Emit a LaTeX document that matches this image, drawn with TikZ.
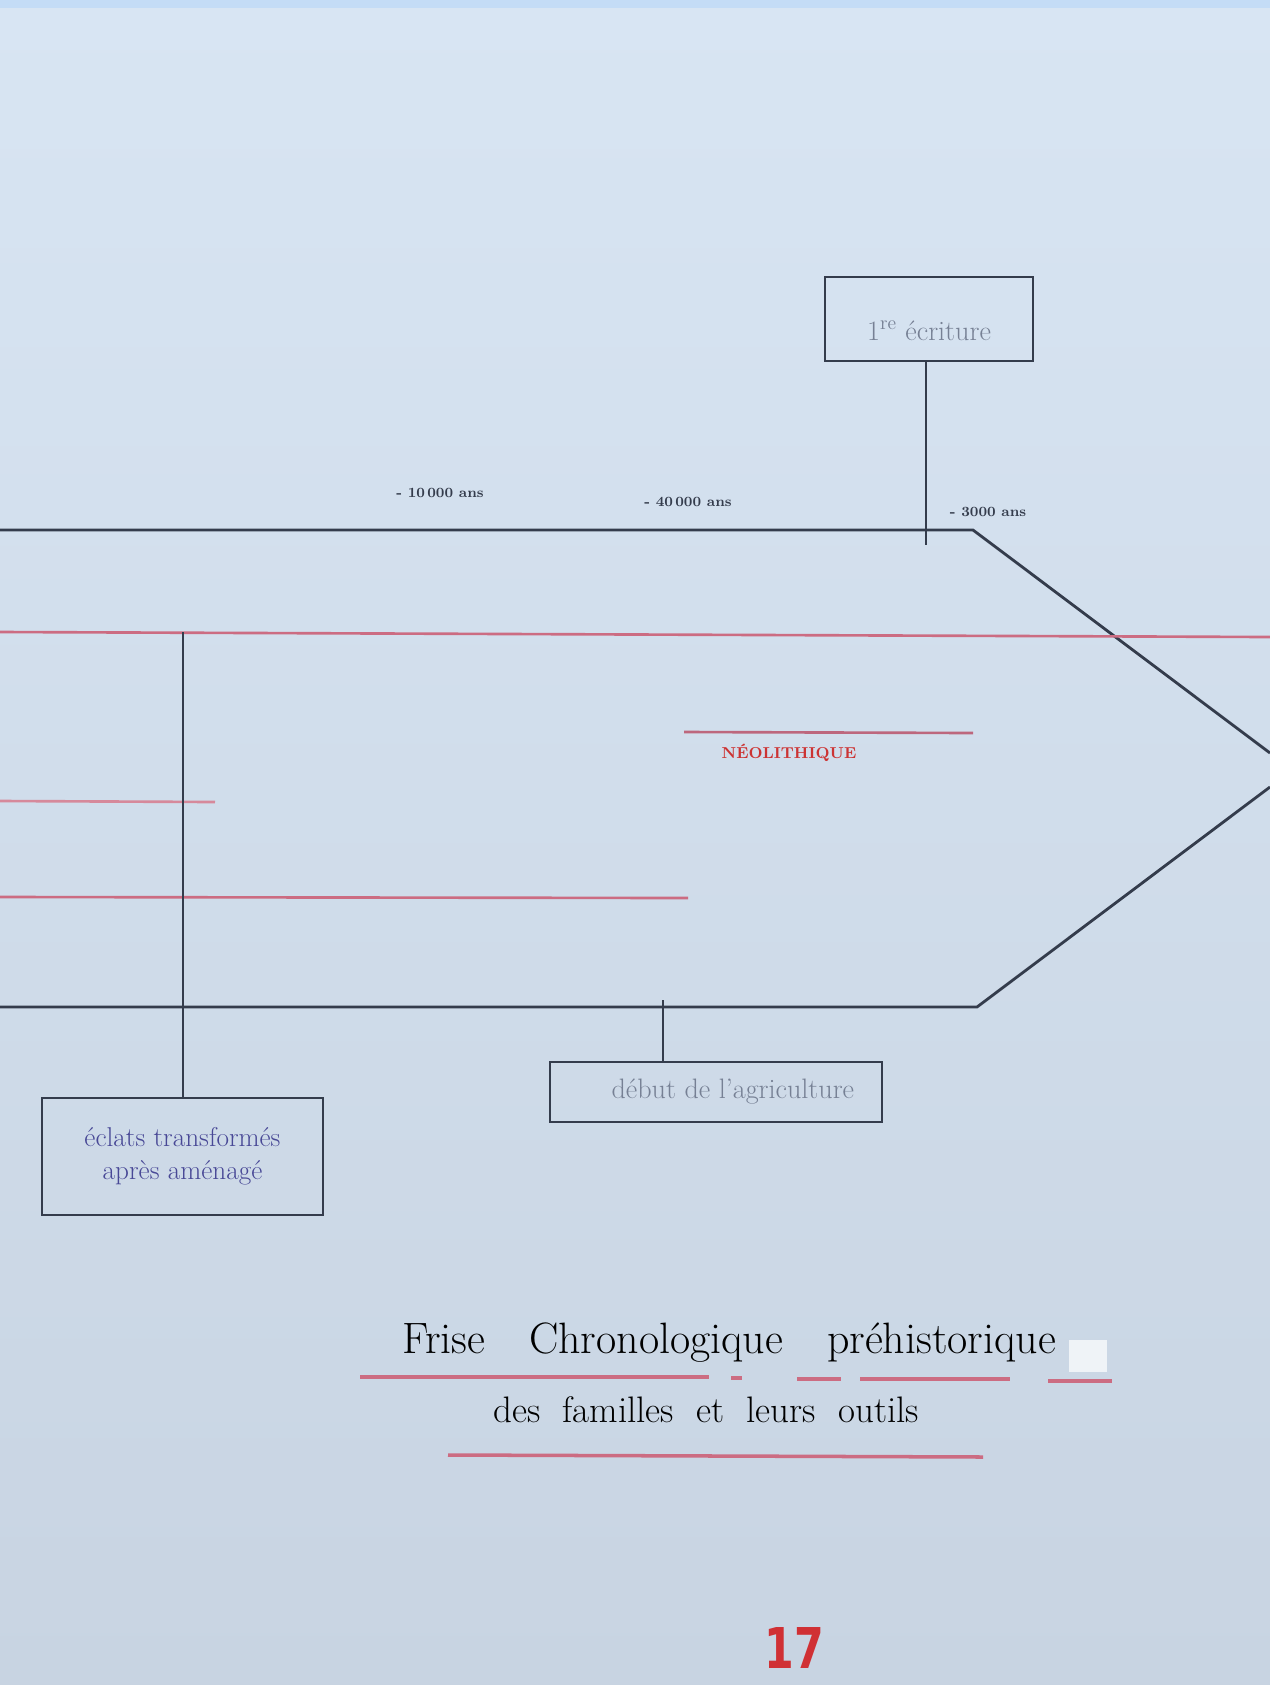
\documentclass[tikz,border=0pt]{standalone}
\usepackage{fontspec}
\usepackage{tikz}
\usetikzlibrary{positioning, calc}

\definecolor{paper}{RGB}{216,229,243}
\definecolor{paperlow}{RGB}{200,212,226}
\definecolor{papertop}{RGB}{196,220,246}
\definecolor{ink}{RGB}{52,60,76}
\definecolor{redink}{RGB}{204,108,130}
\definecolor{blueink}{RGB}{72,72,150}
\definecolor{grayink}{RGB}{118,128,148}
\definecolor{pagered}{RGB}{208,48,52}
\newfontfamily\numfont{DejaVu Sans}

\tikzset{
  rule/.style={ink, line width=1.6pt},
  redrule/.style={redink, line width=1.5pt},
  framebox/.style={draw=ink, line width=1.6pt, inner sep=0pt, align=center},
  datelabel/.style={ink, font=\fontsize{8}{9}\selectfont\bfseries, inner sep=0pt},
}

\begin{document}
\begin{tikzpicture}[x=0.02cm, y=-0.02cm]
\useasboundingbox (0,0) rectangle (1270,1685);
% paper
\shade[top color=paper, bottom color=paperlow] (0,0) rectangle (1270,1685);
\fill[papertop] (0,0) rectangle (1270,8);

% the time line, pointing to the right
\coordinate (tl) at (0,530);
\coordinate (tr) at (973,530);
\coordinate (tip1) at (1270,753);
\coordinate (tip2) at (1270,787);
\coordinate (br) at (977,1007);
\coordinate (bl) at (0,1007);
\draw[rule] (tl) -- (tr) -- (tip1);
\draw[rule] (tip2) -- (br) -- (bl);

% dates above the line
\node[datelabel] (d1) at (440,493) {- 10\,000 ans};
\node[datelabel] (d2) at (688,502) {- 40\,000 ans};
\node[datelabel] (d3) at (988,512) {- 3000 ans};

% boxes
\node[framebox, minimum width=4.16cm, minimum height=1.68cm, text=grayink,
  font=\fontsize{16}{18}\selectfont] (ecriture) at (929,319)
  {\raisebox{-12pt}[0pt][0pt]{1\textsuperscript{re} écriture}};
\node[framebox, minimum width=5.62cm, minimum height=2.34cm, text=blueink,
  font=\fontsize{15.5}{19}\selectfont] (eclats) at (182.5,1156.5)
  {éclats transformés\\ après aménagé};
\node[framebox, minimum width=6.64cm, minimum height=1.2cm, text=grayink,
  font=\fontsize{16}{18}\selectfont] (agri) at (716,1092)
  {\hspace*{1.2em}début de l'agriculture};

% red lines
\draw[redrule] (0,632) -- (1270,637);
\draw[redrule, redink!80] (0,801) -- (215,802);
\draw[redrule] (0,897) -- (688,898);
\draw[redrule, redink!90!ink] (684,732) -- (973,733);
\node[red!75!black!80!white, font=\fontsize{9}{10}\selectfont\bfseries, inner sep=0pt] (neo) at (789,753) {NÉOLITHIQUE};

% ticks joining boxes to the line
\coordinate (ecrtick) at (926,545);
\coordinate (eclatstop) at (183,632);
\coordinate (agritop) at (663,1000);
\draw[rule] (ecriture.south -| ecrtick) -- (ecrtick);
\draw[rule] (eclatstop) -- (eclatstop |- eclats.north);
\draw[rule] (agritop) -- (agritop |- agri.north);

% title
\node[inner sep=0pt, font=\fontsize{25}{30}\selectfont] (title1) at (729,1343) {Frise\quad Chronologique\quad préhistorique};
\node[inner sep=0pt, font=\fontsize{21}{25}\selectfont] (title2) at (706,1410) {des\ \ familles\ \ et\ \ leurs\ \ outils};
\fill[white, opacity=0.7] (1069,1340) rectangle (1107,1372);
\draw[redrule, line width=2pt] (360,1377) -- (709,1377);
\draw[redrule, line width=2pt] (731,1378) -- (742,1378);
\draw[redrule, line width=2pt] (797,1379) -- (841,1379);
\draw[redrule, line width=2pt] (860,1379) -- (1010,1379);
\draw[redrule, line width=2pt] (1048,1381) -- (1112,1381);
\draw[redrule, line width=2pt] (448,1455) -- (983,1457);

% page number
\node[pagered, font=\numfont\bfseries\fontsize{32}{34}\selectfont, inner sep=0pt, anchor=base] (page) at (794,1668) {\scalebox{0.76}[1]{17}};
\end{tikzpicture}
\end{document}
